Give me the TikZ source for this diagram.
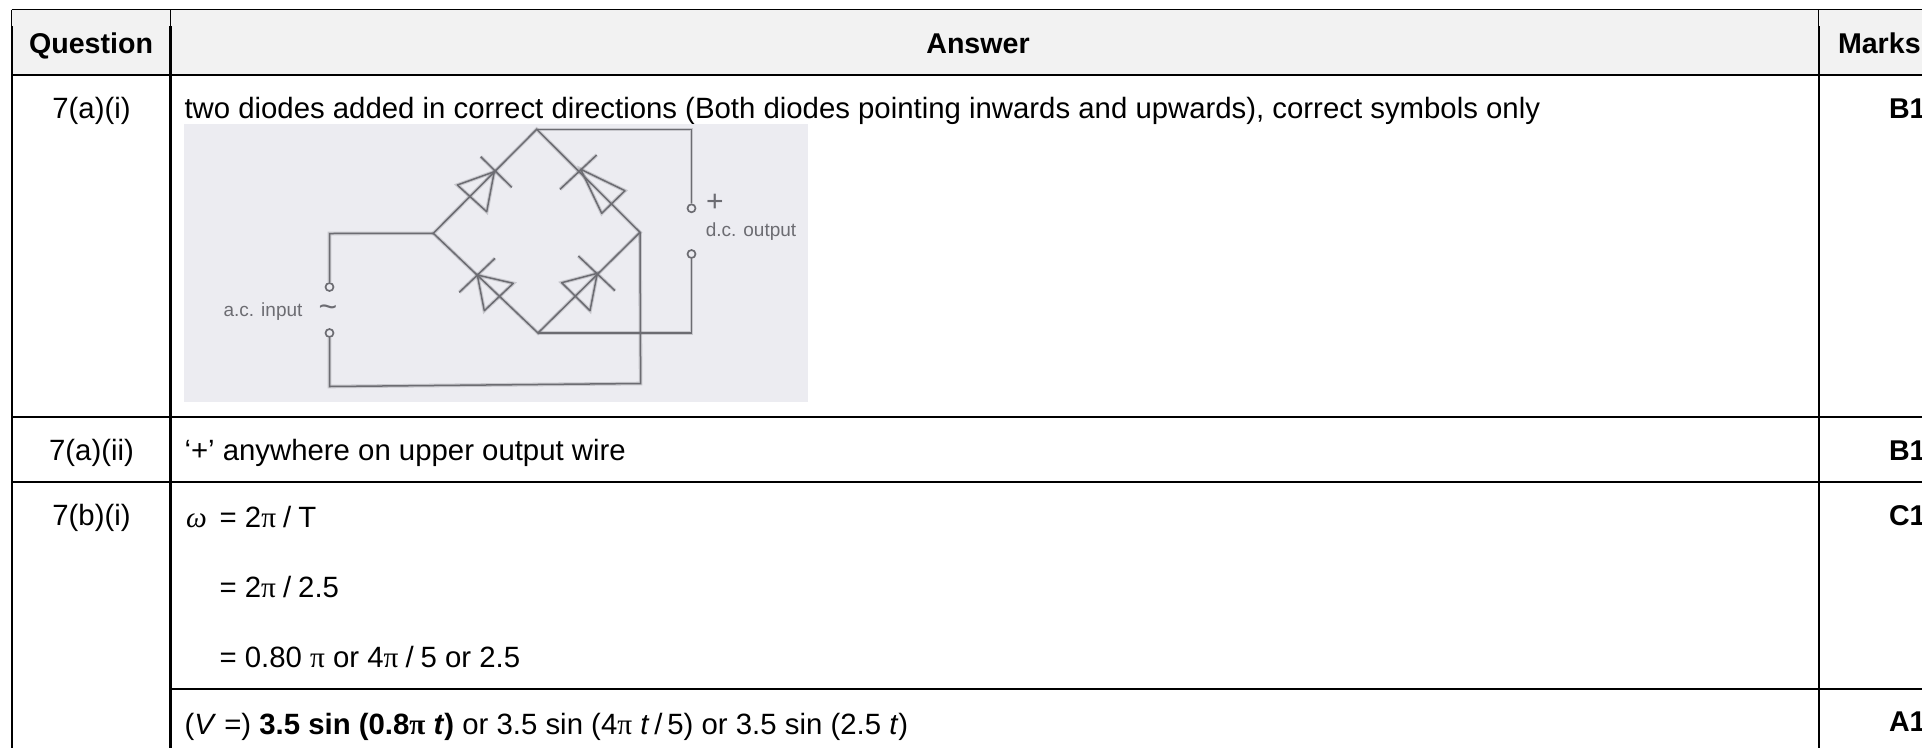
\documentclass[tikz,border=0pt]{standalone}
\usepackage{fontspec}
\setmainfont{Liberation Sans}
\newfontfamily\serifpi{Liberation Serif}
\newcommand{\pisym}{{\serifpi π}}
\newcommand{\bpisym}{{\serifpi\bfseries π}}
\newcommand{\omegasym}{{\serifpi\itshape ω}}
\newcommand{\slashgap}{\hspace{7pt}/\hspace{7pt}}
\definecolor{headfill}{RGB}{242,242,242}
\definecolor{scanfill}{RGB}{236,236,241}
\definecolor{wirec}{RGB}{108,108,114}
\tikzset{
  body/.style={font=\fontsize{29.35}{34}\selectfont, anchor=base west, inner sep=0pt, outer sep=0pt, text=black},
  bodybold/.style={body, font=\fontsize{28.6}{34}\selectfont\bfseries},
  cen/.style={body, anchor=base},
  rule/.style={draw=black, line width=2.2pt},
  thinrule/.style={draw=black, line width=1.3pt},
  wire/.style={draw=wirec, line width=1.5pt, preaction={draw=wirec, opacity=.28, line width=3.6pt}},
  term/.style={circle, draw=wirec, line width=1.7pt, minimum size=8pt, inner sep=0pt},
  scanlabel/.style={font=\fontsize{19}{21}\selectfont, text=wirec, inner sep=0pt},
}
\begin{document}
\begin{tikzpicture}[x=1pt,y=-1pt]
\useasboundingbox (0,0) rectangle (1922,748);
\fill[white] (0,0) rectangle (1922,748);
\fill[headfill] (11.6,10) rectangle (1922,74.7);
% table rules
\coordinate (tl) at (11.6,9.5);
\coordinate (tr) at (1922,9.5);
\coordinate (hl) at (11.6,74.7);
\coordinate (hr) at (1922,74.7);
\draw[thinrule] (tl) -- (tr);
\draw[thinrule] (11.6,9.5) -- (11.6,26);
\draw[thinrule] (170.5,9.5) -- (170.5,26);
\draw[thinrule] (1818.7,9.5) -- (1818.7,26);
\draw[rule] (11.6,26) -- (11.6,748);
\draw[rule] (170.5,26) -- (170.5,748);
\draw[rule] (1818.7,26) -- (1818.7,748);
\draw[rule] (hl) -- (hr);
\draw[rule] (11.6,416.7) -- (1922,416.7);
\draw[rule] (11.6,482) -- (1922,482);
\draw[rule] (170.5,688.7) -- (1922,688.7);
% header
\node[bodybold,anchor=base] (hq) at (91,53.2) {Question};
\node[bodybold,anchor=base] (ha) at (978,53.2) {Answer};
\node[bodybold] (hm) at (1838,53.2) {Marks};
% question column
\node[cen] (q1) at (91.5,118.3) {7(a)(i)};
\node[cen] (q2) at (91.5,460.3) {7(a)(ii)};
\node[cen] (q3) at (91.5,525.7) {7(b)(i)};
% answer column
\node[body] (a1) at (184.5,118.3) {two diodes added in correct directions (Both diodes pointing inwards and upwards), correct symbols only};
\node[body] (a2) at (184.5,460.3) {‘+’ anywhere on upper output wire};
\node[body] (a3) at (186,527.7) {\omegasym\hspace{13pt}= 2\pisym\slashgap T};
\node[body] (a4) at (219.6,597.7) {= 2\pisym\slashgap 2.5};
\node[body] (a5) at (219.6,667.7) {= 0.80 \pisym\ or 4\pisym\slashgap 5 or 2.5};
\node[body] (a6) at (184.5,734.3) {(\textit{V} =) \textbf{3.5 sin (0.8\bpisym\ \textit{t})} or 3.5 sin (4\pisym\ \textit{t}\,/\,5) or 3.5 sin (2.5 \textit{t})};
% marks column
\node[bodybold,anchor=base west] (m1) at (1889,118.5) {B1};
\node[bodybold,anchor=base west] (m2) at (1889,460) {B1};
\node[bodybold,anchor=base west] (m3) at (1889,525) {C1};
\node[bodybold,anchor=base west] (m4) at (1889,731.5) {A1};
% scanned circuit
\fill[scanfill] (184,124) rectangle (808,401.7);
\coordinate (vt) at (536.7,129.3);
\coordinate (vl) at (433.3,233.3);
\coordinate (vr) at (640,232.3);
\coordinate (vb) at (538,333);
\node[term] (to1) at (691.5,208.3) {};
\node[term] (to2) at (691.5,254) {};
\node[term] (ti1) at (329.5,287) {};
\node[term] (ti2) at (329.5,333) {};
\coordinate (ct1) at (691.5,129.3);
\coordinate (ct2) at (691.5,333);
\coordinate (ci1) at (329.5,233.5);
\coordinate (ci2) at (329.5,386.5);
\coordinate (cr) at (640.6,383.5);
\draw[wire] (vt) -- (vl) -- (vb) -- (vr) -- cycle;
\draw[wire] (vt) -- (ct1) -- (to1);
\draw[wire] (vb) -- (ct2) -- (to2);
\draw[wire] (vl) -- (ci1) -- (ti1);
\draw[wire] (ti2) -- (ci2) -- (cr) -- (vr);
% diodes
\draw[wire] (480.7,156.7) -- (511.7,187.3);
\draw[wire,line join=round] (494.3,171.7) -- (457.3,185) -- (486.7,211.7) -- cycle;
\draw[wire] (560,189.3) -- (596.7,155);
\draw[wire,line join=round] (580.7,169.3) -- (625,190.7) -- (601.7,213.3) -- cycle;
\draw[wire] (459.3,292.3) -- (495,258.3);
\draw[wire,line join=round] (477.3,275) -- (513.3,283.3) -- (484.3,310.7) -- cycle;
\draw[wire] (578.3,256) -- (615,290.7);
\draw[wire,line join=round] (597.3,273.3) -- (561.7,282.7) -- (590,310.7) -- cycle;
% labels
\node[scanlabel] (acin) at (263,312) {a.c. input};
\node[scanlabel] (acs) at (328,311) {\fontsize{32}{32}\selectfont\string~};
\node[scanlabel] (plus) at (715,203) {\fontsize{30}{30}\selectfont +};
\node[scanlabel] (dcout) at (751,231.7) {d.c. output};
\end{tikzpicture}
\end{document}
